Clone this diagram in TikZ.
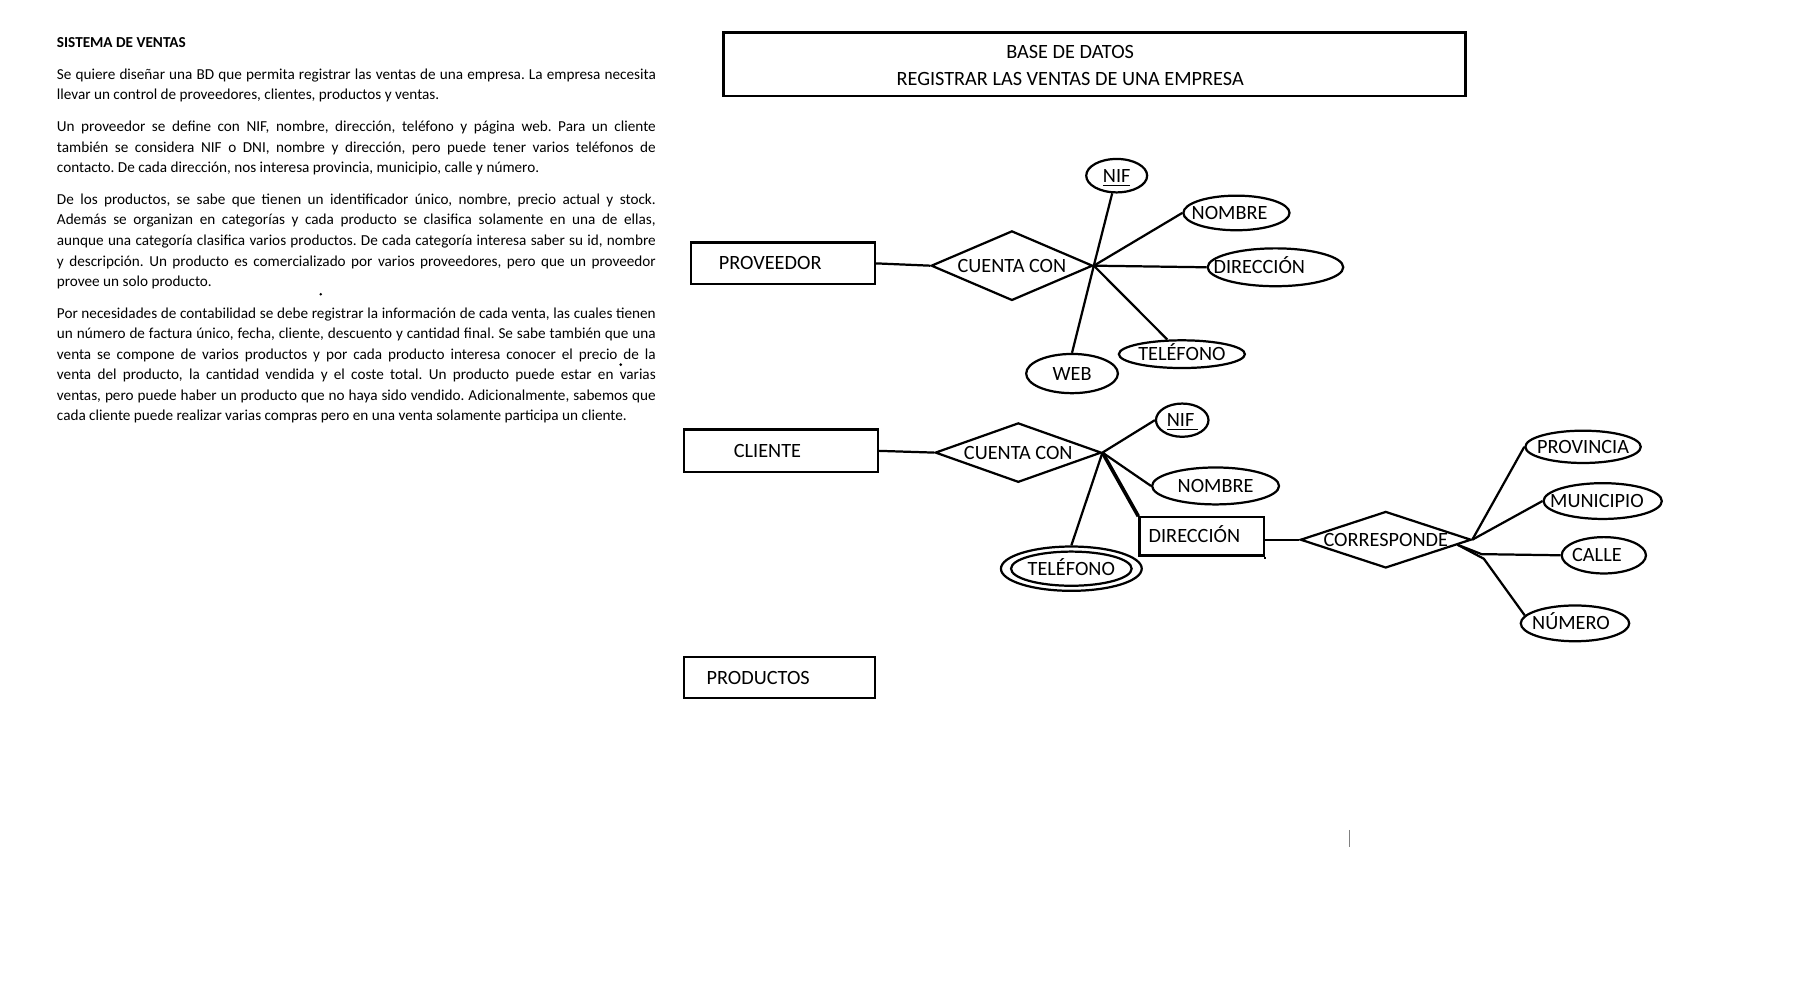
\documentclass[tikz,border=0pt]{standalone}
\usepackage{fontspec}
\setmainfont{Carlito}
\usetikzlibrary{shapes.geometric}

\tikzstyle{entidad} = [rectangle, draw=black, line width=1.1pt, inner ysep=0pt, text height=6.4pt, text depth=0pt, align=left, font=\fontsize{10}{12}\selectfont]
\tikzstyle{relacion} = [diamond, draw=black, line width=1.1pt, inner sep=0pt, text height=6.4pt, text depth=0pt, font=\fontsize{10}{12}\selectfont, execute at begin node={\hbox to 0pt\bgroup\hss}, execute at end node={\hss\egroup}]
\tikzstyle{atributo} = [ellipse, draw=black, line width=1.1pt, inner sep=0pt, text height=6.4pt, text depth=0pt, font=\fontsize{10}{12}\selectfont, execute at begin node={\hbox to 0pt\bgroup\hss}, execute at end node={\hss\egroup}]
\tikzstyle{marco} = [rectangle, draw=black, line width=1.1pt, minimum width=128.6mm, minimum height=11mm]
\tikzstyle{titulo} = [align=center, inner sep=0pt, font=\fontsize{10}{13}\selectfont]
\tikzstyle{linea} = [line width=1.1pt]

\begin{document}
\begin{tikzpicture}[x=0.2mm, y=-0.2mm]
	
	\useasboundingbox (0,0) rectangle (1560,866.7);
	
	\node (enunciado) [anchor=north west, text width=103.8mm, inner sep=0pt, align=justify, font=\fontsize{7.5}{10.12}\selectfont] at (49,32.4) {\setlength{\parindent}{0pt}\setlength{\parskip}{1.94mm}\sloppy\frenchspacing\hyphenpenalty=10000
		{\bfseries SISTEMA DE VENTAS}\par
		Se quiere diseñar una BD que permita registrar las ventas de una empresa. La empresa necesita\linebreak
		llevar un control de proveedores, clientes, productos y ventas.\par
		Un proveedor se define con NIF, nombre, dirección, teléfono y página web. Para un cliente\linebreak
		también se considera NIF o DNI, nombre y dirección, pero puede tener varios teléfonos de\linebreak
		contacto. De cada dirección, nos interesa provincia, municipio, calle y número.\par
		De los productos, se sabe que tienen un identificador único, nombre, precio actual y stock.\linebreak
		Además se organizan en categorías y cada producto se clasifica solamente en una de ellas,\linebreak
		aunque una categoría clasifica varios productos. De cada categoría interesa saber su id, nombre\linebreak
		y descripción. Un producto es comercializado por varios proveedores, pero que un proveedor\linebreak
		provee un solo producto.\par
		Por necesidades de contabilidad se debe registrar la información de cada venta, las cuales tienen\linebreak
		un número de factura único, fecha, cliente, descuento y cantidad final. Se sabe también que una\linebreak
		venta se compone de varios productos y por cada producto interesa conocer el precio de la\linebreak
		venta del producto, la cantidad vendida y el coste total. Un producto puede estar en varias\linebreak
		ventas, pero puede haber un producto que no haya sido vendido. Adicionalmente, sabemos que\linebreak
		cada cliente puede realizar varias compras pero en una venta solamente participa un cliente.};
	\fill (278,255) circle (0.25mm);
	\fill (538,316) circle (0.25mm);
	
	\begin{scope}[xshift=-0.6mm, yshift=0.15mm]
	\node (marco) [marco] at (951.5,56.5) {};
	\node (titulo) [titulo] at (930.5,57.4) {BASE DE DATOS\\REGISTRAR LAS VENTAS DE UNA EMPRESA};
	
	\node (proveedor) [entidad, minimum height=7.2mm, text width=22.2mm, inner xsep=4.8mm] at (681.5,229) {PROVEEDOR};
	\node (cuenta1) [relacion, minimum width=28mm, minimum height=12.06mm] at (880,231) {CUENTA CON};
	\node (nif1) [atributo, minimum width=10.56mm, minimum height=5.8mm] at (970.8,153) {\underline{NIF}};
	\node (nombre1) [atributo, minimum width=18.4mm, minimum height=6mm] at (1074.6,185.3) {\kern-2.4mm NOMBRE};
	\node (direccion1) [atributo, minimum width=23.5mm, minimum height=6.56mm] at (1108.4,232.4) {\kern-5.6mm DIRECCIÓN};
	\node (tel1) [atributo, minimum width=21.84mm, minimum height=4.8mm] at (1027.3,307.7) {TELÉFONO};
	\node (web) [atributo, minimum width=15.9mm, minimum height=6.8mm] at (932.1,324.5) {WEB};
	
	\node (cliente) [entidad, minimum height=7.4mm, text width=16.4mm, inner xsep=8.6mm] at (680,391.5) {CLIENTE};
	\node (cuenta2) [relacion, minimum width=28.8mm, minimum height=10.3mm] at (885.5,393) {CUENTA CON};
	\node (nif2) [atributo, minimum width=9.1mm, minimum height=5.76mm] at (1027.6,364.9) {\underline{NIF\,}};
	\node (nombre2) [atributo, minimum width=22mm, minimum height=6.4mm] at (1056.5,421.9) {NOMBRE};
	\node (direccion2) [entidad, minimum height=6.6mm, text width=18.4mm, inner xsep=1.6mm] at (1044.5,465.6) {DIRECCIÓN};
	\node (tel2) [atributo, minimum width=24.4mm, minimum height=7.68mm] at (931.5,493.6) {};
	\node (tel2in) [atributo, minimum width=20.9mm, minimum height=5.92mm] at (931.5,493.6) {TELÉFONO};
	
	\node (corresponde) [relacion, minimum width=29.6mm, minimum height=9.8mm] at (1204,468.5) {CORRESPONDE};
	\node (provincia) [atributo, minimum width=20mm, minimum height=5.6mm] at (1375,388) {PROVINCIA};
	\node (municipio) [atributo, minimum width=20.5mm, minimum height=6.2mm] at (1392,435) {\kern-2mm MUNICIPIO};
	\node (calle) [atributo, minimum width=14.6mm, minimum height=6.3mm] at (1393,482) {\kern-2.4mm CALLE};
	\node (numero) [atributo, minimum width=18.8mm, minimum height=6.2mm] at (1368,541) {\kern-1.4mm NÚMERO};
	\coordinate (codo1) at (1287,481);
	\coordinate (codo2) at (1289,485);
	
	\node (productos) [entidad, minimum height=7.04mm, text width=25.28mm, inner xsep=3.96mm] at (678.6,588) {PRODUCTOS};
	
	\draw [linea] (proveedor.east) -- (cuenta1.west);
	\draw [linea] (cuenta1.east) -- (nif1);
	\draw [linea] (cuenta1.east) -- (nombre1.west);
	\draw [linea] (cuenta1.east) -- (direccion1.west);
	\draw [linea] (cuenta1.east) -- (tel1);
	\draw [linea] (cuenta1.east) -- (web.north);
	
	\draw [linea] (cliente.east) -- (cuenta2.west);
	\draw [linea] (cuenta2.east) -- (nif2.west);
	\draw [linea] (cuenta2.east) -- (nombre2.west);
	\draw [linea, line width=1.8pt] (cuenta2.east) -- (direccion2.north west);
	\draw [linea] (cuenta2.east) -- (tel2.north);
	
	\draw [linea] (corresponde.west) -- (corresponde.west -| direccion2.east);
	\draw [linea] (direccion2.south east) -- ++(0,2.5);
	\draw [linea] (corresponde.east) -- (provincia.west);
	\draw [linea] (corresponde.east) -- (municipio.west);
	\draw [linea] (corresponde.-4) -- (codo1) -- (calle.west);
	\draw [linea] (corresponde.-4) -- (codo2) -- (numero.171);
	
	\draw [gray, line width=0.3pt] (1172,720) -- (1172,735);
	\end{scope}
	
\end{tikzpicture}
\end{document}
